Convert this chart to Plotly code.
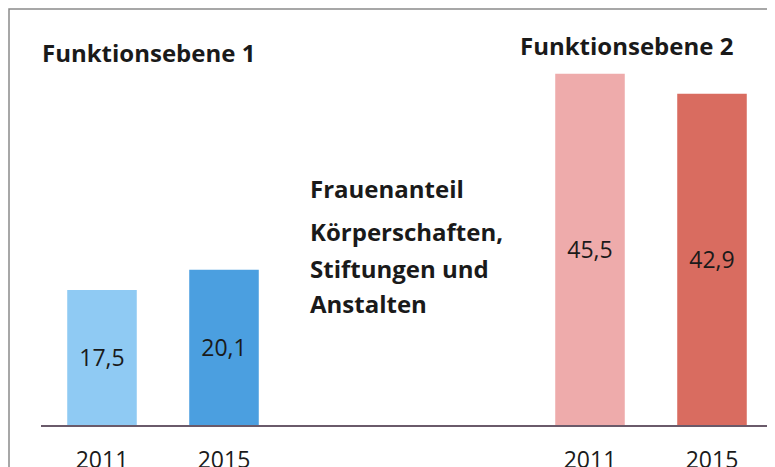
import plotly.graph_objects as go

categories = ["a", "b", "c", "d", "e", "f"]
tick_labels = ["2011", "2015", "", "", "2011", "2015"]
values = [17.5, 20.1, None, None, 45.5, 42.9]
value_text = ["17,5", "20,1", "", "", "45,5", "42,9"]
bar_colors = ["#8fcaf3", "#4b9fe0", "#ffffff", "#ffffff", "#eeabab", "#d96c60"]

FONT = "Open Sans"
OFF = 8  # default page body margin of the html page
W, H = 775 - OFF, 467 - OFF
# plot area in page pixels
left, right, top, base = 41, 773, 20, 425
ml, mr, mt, mb = left - OFF, W - (right - OFF), top - OFF, H - (base - OFF)
pw, ph = W - ml - mr, H - mt - mb
ymax = ph / 7.72

def px(x):
    return (x - OFF - ml) / pw

def py(y):
    return (H - mb - (y - OFF)) / ph

fig = go.Figure()
fig.add_trace(go.Bar(
    x=categories, y=values, marker_color=bar_colors, marker_line_width=0,
    text=value_text, textposition="inside", insidetextanchor="middle",
    textfont=dict(family=FONT, size=23, color="#1a1a1a"), textangle=0,
    width=0.57, hoverinfo="skip",
))

annots = [
    ("Funktionsebene 1", 40, 52),
    ("Funktionsebene 2", 518, 45),
    ("Frauenanteil", 308, 188),
    ("Körperschaften,", 308, 231),
    ("Stiftungen und", 308, 268),
    ("Anstalten", 308, 303),
]
for t, x, y in annots:
    fig.add_annotation(text="<b>" + t + "</b>", x=px(x), y=py(y), xref="paper", yref="paper",
                       xanchor="left", yanchor="middle", showarrow=False,
                       font=dict(family=FONT, size=24, color="#1a1a1a"))

fig.add_shape(type="rect", xref="paper", yref="paper",
              x0=px(9), x1=px(800), y0=py(500), y1=py(9),
              line=dict(color="#8a8a8a", width=1.5), fillcolor="rgba(0,0,0,0)", layer="below")

fig.update_layout(
    width=W, height=H, margin=dict(l=ml, r=mr, t=mt, b=mb, autoexpand=False),
    paper_bgcolor="white", plot_bgcolor="white", showlegend=False,
    xaxis=dict(type="category", tickvals=categories, ticktext=tick_labels,
               showgrid=False, showline=True, linecolor="#6a5a6a", linewidth=1.5,
               ticks="", ticklabelstandoff=14, automargin=False,
               tickfont=dict(family=FONT, size=23, color="#1a1a1a"), fixedrange=True),
    yaxis=dict(range=[0, ymax], visible=False, showgrid=False, fixedrange=True,
               automargin=False),
    bargap=0.43,
)
fig.write_html("out.html")
